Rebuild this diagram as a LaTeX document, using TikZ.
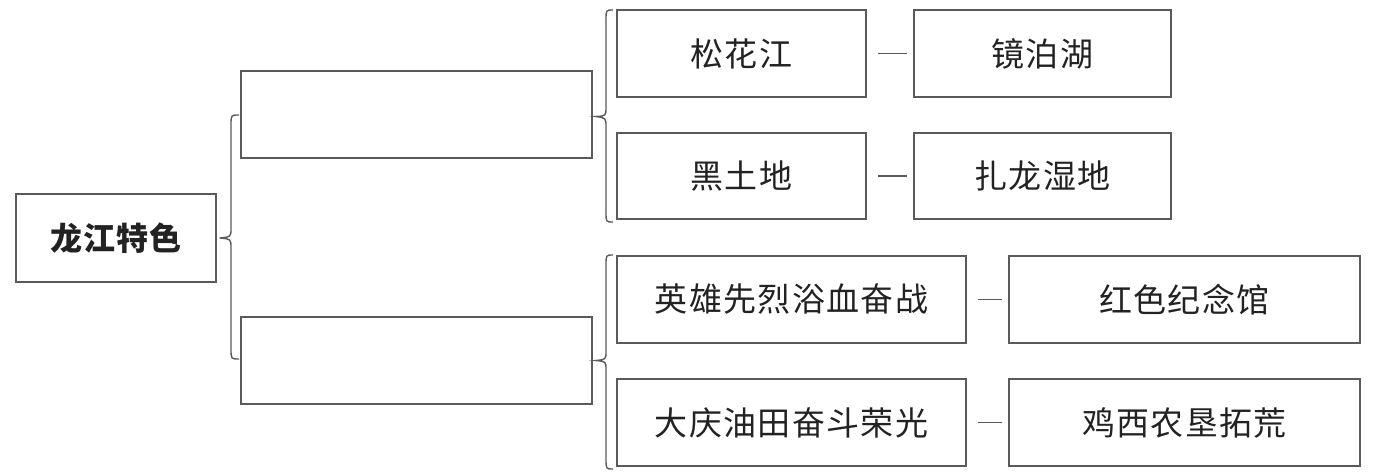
\documentclass[tikz,border=0pt]{standalone}
\usepackage{fontspec}
\newfontfamily\cjk[LetterSpace=4]{Noto Sans CJK SC}
\usetikzlibrary{calc}
\definecolor{linegray}{HTML}{5A5A5A}
\definecolor{txt}{HTML}{222222}
\tikzset{
  box/.style={draw=linegray, line width=1.6pt, inner sep=0pt, minimum height=87pt, text=txt, font=\cjk\fontsize{33}{38}\selectfont},
  titlebox/.style={box, font=\cjk\bfseries\fontsize{32}{38}\selectfont},
  dashlink/.style={draw=linegray, line width=1.4pt, shorten <=11pt, shorten >=6pt},
  bracepath/.style={draw=linegray, line width=1.4pt}
}
\begin{document}
\begin{tikzpicture}[x=1pt,y=-1pt]
\useasboundingbox (0,0) rectangle (1380,473);
% main
\node[titlebox, minimum width=200pt, minimum height=88pt] (main) at (116,238) {龙江特色};
% middle empty boxes
\node[box, minimum width=351pt] (midA) at (416.5,114.5) {};
\node[box, minimum width=351pt] (midB) at (416.5,360.5) {};
% right boxes
\node[box, minimum width=249pt] (r1a) at (741.5,53.5) {松花江};
\node[box, minimum width=257pt] (r1b) at (1042.5,53.5) {镜泊湖};
\node[box, minimum width=249pt, minimum height=86pt] (r2a) at (741.5,176) {黑土地};
\node[box, minimum width=257pt, minimum height=86pt] (r2b) at (1042.5,176) {扎龙湿地};
\node[box, minimum width=349pt] (r3a) at (791.5,299.5) {英雄先烈浴血奋战};
\node[box, minimum width=351pt] (r3b) at (1184.5,299.5) {红色纪念馆};
\node[box, minimum width=349pt] (r4a) at (791.5,422.5) {大庆油田奋斗荣光};
\node[box, minimum width=351pt] (r4b) at (1184.5,422.5) {鸡西农垦拓荒};
% dashes
\draw[dashlink] (r1a.east) -- (r1b.west);
\draw[dashlink] (r2a.east) -- (r2b.west);
\draw[dashlink] (r3a.east) -- (r3b.west);
\draw[dashlink] (r4a.east) -- (r4b.west);
% brace coordinates
\coordinate (b1tip) at ($(main.east)+(3,0)$);
\coordinate (b1top) at (239,115);
\coordinate (b1bot) at (239,359);
\coordinate (b2tip) at ($(midA.east)+(3,2)$);
\coordinate (b2top) at (613,10);
\coordinate (b2bot) at (613,222);
\coordinate (b3tip) at ($(midB.east)+(3,0)$);
\coordinate (b3top) at (613,255);
\coordinate (b3bot) at (613,469);
% braces
\draw[bracepath] (b1top) .. controls (231,115) .. (231,125) -- (231,228)
  .. controls (231,237) .. (b1tip) .. controls (231,239) .. (231,248) -- (231,349)
  .. controls (231,359) .. (b1bot);
\draw[bracepath] (b2top) .. controls (606,10) .. (606,20) -- (606,107)
  .. controls (606,116) .. (b2tip) .. controls (606,118) .. (606,127) -- (606,212)
  .. controls (606,222) .. (b2bot);
\draw[bracepath] (b3top) .. controls (606,255) .. (606,265) -- (606,351)
  .. controls (606,359.5) .. (b3tip) .. controls (606,361.5) .. (606,370) -- (606,459)
  .. controls (606,469) .. (b3bot);
\end{tikzpicture}
\end{document}
